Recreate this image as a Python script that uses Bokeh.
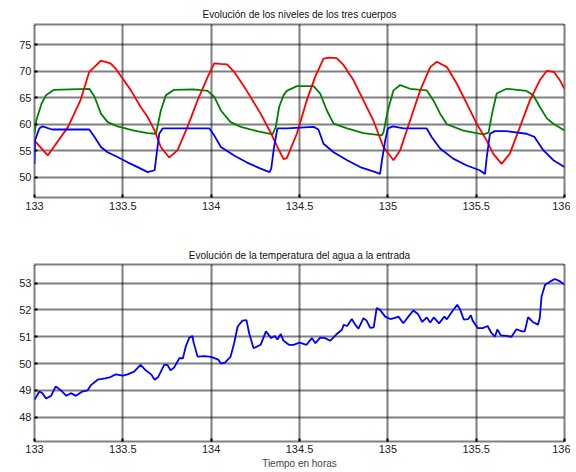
from bokeh.plotting import figure
from bokeh.layouts import column
from bokeh.models import Range1d, FixedTicker, Title
from bokeh.embed import file_html
from bokeh.resources import INLINE

# ---- data ----
x_ticks = [133, 133.5, 134, 134.5, 135, 135.5, 136]
y_ticks_top = [50, 55, 60, 65, 70, 75]
y_ticks_bot = [48, 49, 50, 51, 52, 53]

t_red = [133.0, 133.075, 133.19, 133.26, 133.31, 133.376, 133.43, 133.46, 133.5, 133.546,
         133.6, 133.64, 133.68, 133.715, 133.762, 133.81, 133.866, 133.923, 133.98, 134.017,
         134.05, 134.09, 134.13, 134.2, 134.28, 134.34, 134.375, 134.41, 134.428, 134.485,
         134.541, 134.588, 134.636, 134.67, 134.71, 134.749, 134.806, 134.862, 134.918, 134.975,
         135.032, 135.07, 135.126, 135.183, 135.24, 135.277, 135.334, 135.39, 135.447, 135.503,
         135.56, 135.597, 135.644, 135.69, 135.748, 135.804, 135.86, 135.9, 135.94, 135.974, 136.0]
red = [56.9, 54.1, 59.5, 64.5, 69.9, 72.0, 71.5, 70.5, 68.6, 66.4,
       63.3, 61.4, 58.8, 55.7, 53.7, 55.1, 59.5, 64.5, 68.9, 71.5,
       71.4, 71.3, 69.9, 66.4, 62.0, 58.2, 55.7, 53.4, 53.6, 58.2,
       64.5, 68.9, 72.4, 72.6, 72.5, 71.2, 68.3, 64.5, 60.7, 55.7,
       53.2, 55.1, 60.7, 66.4, 70.8, 71.8, 70.8, 67.7, 63.9, 60.1,
       56.9, 54.4, 52.5, 54.4, 59.5, 64.5, 68.3, 70.1, 69.9, 68.3, 66.7]

t_green = [133.0, 133.01, 133.04, 133.065, 133.11, 133.2, 133.31, 133.34, 133.376, 133.414,
           133.47, 133.564, 133.64, 133.687, 133.696, 133.715, 133.744, 133.79, 133.9, 133.98,
           134.017, 134.055, 134.11, 134.168, 134.26, 134.347, 134.366, 134.385, 134.41, 134.428,
           134.485, 134.58, 134.617, 134.655, 134.693, 134.77, 134.862, 134.966, 134.975, 135.0,
           135.032, 135.07, 135.126, 135.22, 135.258, 135.296, 135.334, 135.428, 135.54, 135.57,
           135.59, 135.616, 135.672, 135.785, 135.823, 135.86, 135.9, 135.937, 136.0]
green = [58.2, 60.7, 63.9, 65.5, 66.5, 66.6, 66.7, 65.2, 62.0, 60.4,
         59.6, 58.8, 58.3, 58.2, 59.5, 62.6, 65.5, 66.5, 66.6, 66.3,
         65.2, 62.6, 60.4, 59.5, 58.7, 58.1, 59.5, 63.3, 65.5, 66.3,
         67.2, 67.2, 65.8, 62.6, 60.1, 59.2, 58.3, 57.9, 58.4, 62.6,
         66.4, 67.4, 66.7, 66.4, 64.5, 62.0, 60.0, 58.8, 58.1, 58.4,
         62.0, 65.8, 66.7, 66.3, 65.5, 63.3, 61.1, 60.1, 58.8]

t_blue = [133.0, 133.003, 133.027, 133.045, 133.1, 133.2, 133.31, 133.34, 133.376, 133.414,
          133.47, 133.527, 133.584, 133.64, 133.68, 133.687, 133.706, 133.725, 133.85, 133.99,
          134.017, 134.055, 134.13, 134.2, 134.28, 134.33, 134.34, 134.356, 134.375, 134.428,
          134.58, 134.607, 134.636, 134.693, 134.77, 134.843, 134.93, 134.956, 134.966, 134.985,
          135.0, 135.03, 135.088, 135.22, 135.248, 135.296, 135.37, 135.447, 135.52, 135.55,
          135.56, 135.578, 135.606, 135.67, 135.785, 135.83, 135.88, 135.937, 136.0]
blue = [52.5, 57.0, 59.2, 59.6, 59.0, 59.0, 59.0, 57.6, 55.7, 54.7,
        53.8, 52.8, 51.9, 50.95, 51.3, 53.2, 58.2, 59.2, 59.2, 59.2,
        57.9, 55.7, 54.1, 52.8, 51.6, 50.95, 51.6, 55.7, 59.2, 59.2,
        59.5, 59.0, 56.3, 54.7, 53.2, 51.9, 50.95, 50.6, 53.0, 56.9,
        59.2, 59.6, 59.2, 59.2, 57.6, 55.4, 53.5, 52.2, 51.3, 50.6,
        53.8, 58.2, 58.7, 58.7, 58.2, 57.6, 55.1, 53.2, 51.9]

t_temp = [133.0, 133.027, 133.045, 133.065, 133.094, 133.12, 133.15, 133.18, 133.206, 133.235,
          133.27, 133.3, 133.32, 133.357, 133.4, 133.43, 133.46, 133.5, 133.527, 133.564,
          133.6, 133.63, 133.66, 133.68, 133.7, 133.734, 133.753, 133.77, 133.79, 133.82,
          133.84, 133.856, 133.875, 133.894, 133.9, 133.923, 133.96, 134.0, 134.04, 134.055,
          134.08, 134.11, 134.13, 134.15, 134.177, 134.2, 134.215, 134.24, 134.28, 134.31,
          134.34, 134.36, 134.375, 134.394, 134.41, 134.44, 134.466, 134.5, 134.54, 134.57,
          134.59, 134.617, 134.645, 134.673, 134.711, 134.74, 134.75, 134.77, 134.796, 134.815,
          134.834, 134.862, 134.88, 134.9, 134.92, 134.937, 134.956, 134.985, 135.014, 135.04,
          135.06, 135.088, 135.116, 135.145, 135.17, 135.195, 135.22, 135.24, 135.26, 135.29,
          135.32, 135.334, 135.365, 135.393, 135.41, 135.43, 135.455, 135.47, 135.48, 135.51,
          135.537, 135.565, 135.585, 135.606, 135.62, 135.64, 135.67, 135.7, 135.728, 135.76,
          135.775, 135.794, 135.82, 135.85, 135.86, 135.87, 135.89, 135.92, 135.946, 135.975, 136.0]
temp = [48.65, 48.96, 48.9, 48.7, 48.8, 49.15, 49.0, 48.8, 48.9, 48.8,
        48.96, 49.0, 49.2, 49.4, 49.45, 49.5, 49.6, 49.55, 49.6, 49.7,
        49.95, 49.75, 49.6, 49.4, 49.5, 49.95, 49.95, 49.75, 49.85, 50.2,
        50.2, 50.63, 50.95, 51.03, 50.8, 50.26, 50.28, 50.25, 50.15, 50.0,
        50.05, 50.26, 50.76, 51.38, 51.6, 51.62, 51.13, 50.57, 50.7, 51.2,
        50.95, 51.03, 50.9, 51.1, 50.85, 50.7, 50.7, 50.78, 50.7, 50.95,
        50.76, 50.97, 50.95, 50.85, 51.1, 51.26, 51.44, 51.4, 51.66, 51.45,
        51.3, 51.69, 51.6, 51.33, 51.35, 52.07, 52.0, 51.75, 51.66, 51.7,
        51.75, 51.5, 51.75, 51.98, 51.85, 51.55, 51.72, 51.53, 51.72, 51.5,
        51.75, 51.65, 51.95, 52.19, 52.0, 51.64, 51.66, 51.8, 51.6, 51.32,
        51.32, 51.4, 51.15, 51.0, 51.27, 51.05, 51.03, 51.0, 51.28, 51.2,
        51.2, 51.73, 51.55, 51.45, 51.7, 52.5, 52.94, 53.06, 53.15, 53.06, 52.94]

FONT = "Liberation Sans"


def style(p, yticks):
    p.xaxis.ticker = FixedTicker(ticks=x_ticks)
    p.yaxis.ticker = FixedTicker(ticks=yticks)
    for ax in (p.xaxis, p.yaxis):
        ax.axis_line_color = None
        ax.major_tick_in = 3
        ax.major_tick_out = 0
        ax.major_tick_line_color = "black"
        ax.major_tick_line_width = 2
        ax.minor_tick_line_color = None
        ax.major_label_text_font = FONT
        ax.major_label_text_font_size = "11px"
        ax.major_label_text_color = "#222222"
    p.xaxis.major_label_standoff = 4
    p.yaxis.major_label_standoff = 3
    for g in (p.xgrid, p.ygrid):
        g.grid_line_color = "black"
        g.grid_line_width = 2
        g.grid_line_dash = "1 1"
        g.grid_line_alpha = 1.0
    p.outline_line_color = "black"
    p.outline_line_width = 2
    p.outline_line_dash = "1 1"
    p.background_fill_color = "white"
    p.border_fill_color = "white"


p1 = figure(width=570, height=240, output_backend="svg", toolbar_location=None,
            x_range=Range1d(133, 136), y_range=Range1d(46.15, 78.85),
            min_border_left=34, min_border_right=6, min_border_top=24, min_border_bottom=43)
p1.title = Title(text="Evolución de los niveles de los tres cuerpos", align="center",
                 text_font=FONT, text_font_size="10px", text_font_style="normal",
                 text_color="#111111", standoff=9)
style(p1, y_ticks_top)
p1.line(t_green, green, color="#008000", line_width=1.8)
p1.line(t_red, red, color="#ff0000", line_width=1.8)
p1.line(t_blue, blue, color="#0000ff", line_width=1.8)

p2 = figure(width=570, height=232, output_backend="svg", toolbar_location=None,
            x_range=Range1d(133, 136), y_range=Range1d(47.1, 53.69),
            min_border_left=34, min_border_right=6, min_border_top=24, min_border_bottom=31)
p2.title = Title(text="Evolución de la temperatura del agua a la entrada", align="center",
                 text_font=FONT, text_font_size="10px", text_font_style="normal",
                 text_color="#111111", standoff=8)
style(p2, y_ticks_bot)
p2.xaxis.major_label_standoff = 3
p2.xaxis.axis_label = "Tiempo en horas"
p2.xaxis.axis_label_text_font = FONT
p2.xaxis.axis_label_text_font_size = "10px"
p2.xaxis.axis_label_text_font_style = "normal"
p2.xaxis.axis_label_standoff = 2
p2.line(t_temp, temp, color="#0000ff", line_width=1.8)

layout = column(p1, p2, spacing=0)
open("out.html", "w").write(file_html(layout, INLINE))
